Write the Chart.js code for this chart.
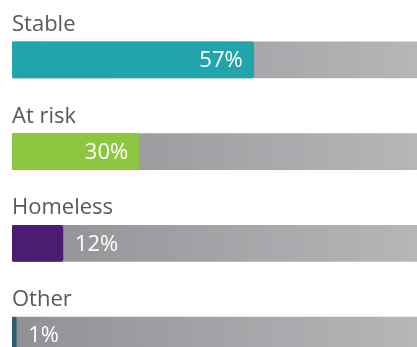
<!DOCTYPE html>
<html>
<head>
<meta charset="utf-8">
<script src="https://cdn.jsdelivr.net/npm/chart.js@4"></script>
<style>
  html, body { margin:0; padding:0; background:#fff; overflow:hidden; width:417px; height:347px; }
  canvas { display:block; }
</style>
</head>
<body>
<canvas id="chart" width="436" height="390"></canvas>
<script>
/* DATA */
let categories = ["Stable", "At risk", "Homeless", "Other"];
let shares = [57, 30, 12, 1];
let barColors = ["#21a4ab", "#8dc63f", "#4b1c72", "#2e5b78"];
let track = [100, 100, 100, 100];

/* LABELS above bars + value text */
let rowLabels = {
    id: "rowLabels",
    afterDatasetsDraw(chart) {
        let ctx = chart.ctx;
        let meta = chart.getDatasetMeta(0);
        ctx.save();
        meta.data.forEach((bar, i) => {
            let p = bar.getProps(["x", "y", "base", "height"], true);
            let top = p.y - p.height / 2;

            ctx.font = "22px 'Open Sans'";
            ctx.fillStyle = "#58595b";
            ctx.textAlign = "left";
            ctx.textBaseline = "alphabetic";
            ctx.fillText(categories[i], p.base, top - 11);

            let txt = shares[i] + "%";
            ctx.font = "22px 'Open Sans'";
            ctx.fillStyle = "#ffffff";
            ctx.textBaseline = "middle";
            let w = ctx.measureText(txt).width;
            if (p.x - p.base > w + 24) {
                ctx.textAlign = "right";
                ctx.fillText(txt, p.x - 11, p.y + 1);
            } else {
                ctx.textAlign = "left";
                ctx.fillText(txt, p.x + 12, p.y + 1);
            }
        });
        ctx.restore();
    }
};

function trackGradient(context) {
    let area = context.chart.chartArea;
    if (!area) return "#a0a2a4";
    let g = context.chart.ctx.createLinearGradient(area.left, 0, area.right, 0);
    g.addColorStop(0, "#8f9194");
    g.addColorStop(1, "#b6b8ba");
    return g;
}

new Chart(document.getElementById("chart"), {
    type: "bar",
    data: {
        labels: categories,
        datasets: [
            {
                data: shares,
                backgroundColor: barColors,
                barThickness: 36,
                borderRadius: 2,
                borderSkipped: false,
                grouped: false
            },
            {
                data: track,
                backgroundColor: trackGradient,
                barThickness: 36,
                borderRadius: 2,
                borderSkipped: false,
                grouped: false
            }
        ]
    },
    options: {
        indexAxis: "y",
        responsive: false,
        animation: false,
        layout: { padding: { left: 12, right: 0, top: 14, bottom: 9 } },
        scales: {
            x: { display: false, min: 0, max: 100 },
            y: { display: false }
        },
        plugins: {
            legend: { display: false },
            tooltip: { enabled: false }
        }
    },
    plugins: [rowLabels]
});
</script>
</body>
</html>
